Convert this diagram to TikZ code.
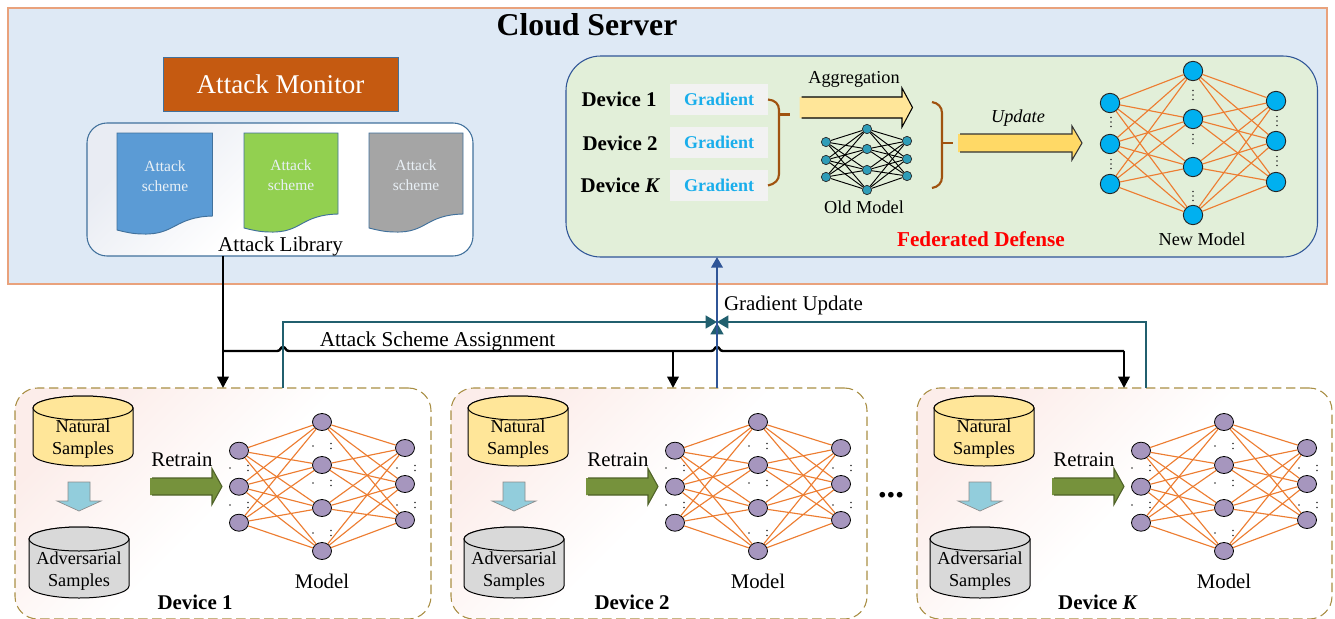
\documentclass[tikz,border=0pt]{standalone}
\usepackage{fontspec}
\setmainfont{Liberation Serif}
\usetikzlibrary{arrows.meta,calc,shapes.geometric}
\definecolor{cloudfill}{HTML}{DEE9F5}
\definecolor{cloudline}{HTML}{E9A27C}
\definecolor{monfill}{HTML}{C55A11}
\definecolor{panelline}{HTML}{41719C}
\definecolor{fedfill}{HTML}{E2EFD9}
\definecolor{fedline}{HTML}{2F5597}
\definecolor{docblue}{HTML}{5B9BD5}
\definecolor{docgreen}{HTML}{92D050}
\definecolor{docgray}{HTML}{A5A5A5}
\definecolor{gradblue}{HTML}{1AAEEB}
\definecolor{gradbox}{HTML}{F2F2F2}
\definecolor{bracec}{HTML}{A0520F}
\definecolor{orangeedge}{HTML}{ED7D31}
\definecolor{nodecyan}{HTML}{00B0F0}
\definecolor{nodeteal}{HTML}{2F9DB8}
\definecolor{nodepurple}{HTML}{A696BE}
\definecolor{yellowfill}{HTML}{FFE699}
\definecolor{updatefill}{HTML}{FFD966}
\definecolor{grayfill}{HTML}{D9D9D9}
\definecolor{retrainfill}{HTML}{76923C}
\definecolor{retrainline}{HTML}{4F6228}
\definecolor{downfill}{HTML}{92CDDC}
\definecolor{dashc}{HTML}{A98F45}
\definecolor{tealc}{HTML}{215F6E}
\definecolor{pinkc}{HTML}{FCEDEA}
\definecolor{libc}{HTML}{E9ECF3}
\definecolor{schemec}{HTML}{E9F0F6}
\newcommand{\fsz}[1]{\fontsize{#1}{#1}\selectfont}
\tikzset{
  label18/.style={font=\fsz{13.7}},
  label21/.style={font=\fsz{15.6}},
  devlabel/.style={font=\fsz{15.7}\bfseries},
  schemetext/.style={font=\fsz{11.6},text=schemec,align=center},
  samplestext/.style={font=\fontsize{13.7}{16.5}\selectfont,align=center},
  gradtext/.style={fill=gradbox,font=\fsz{13.5}\bfseries,text=gradblue},
  devpanel/.style={draw=dashc,line width=0.8pt,dash pattern=on 7pt off 3.5pt,rounded corners=17pt,left color=pinkc,right color=white,middle color=white,shading angle=45},
  nnpurple/.style={ellipse,draw=black,line width=0.6pt,fill=nodepurple,minimum width=14.25pt,minimum height=12.75pt,inner sep=0pt},
  nncyan/.style={circle,draw=black!85,line width=0.7pt,fill=nodecyan,minimum size=14.5pt,inner sep=0pt},
  nnteal/.style={circle,draw=black!85,line width=0.5pt,fill=nodeteal,minimum size=7pt,inner sep=0pt},
  edgeorange/.style={draw=orangeedge,line width=0.85pt},
  edgeblack/.style={draw=black,line width=0.7pt},
  bracepath/.style={draw=bracec,line width=1.6pt},
  busblack/.style={draw=black,line width=1.8pt},
  busteal/.style={draw=tealc,line width=1.8pt},
  busblue/.style={draw=fedline,line width=2pt},
  tipblack/.style={-{Triangle[length=8.5pt,width=8.5pt]}},
  tipteal/.style={-{Triangle[length=8.5pt,width=9.5pt,fill=tealc]}},
  dotmark/.style={fill=black!80},
}
% style name x0 y0 x1 y1 text
\newcommand{\pxbox}[7]{%
  \pgfmathsetmacro\bw{(#5-#3)*0.75}\pgfmathsetmacro\bh{(#6-#4)*0.75}%
  \node[#1,minimum width=\bw pt,minimum height=\bh pt,inner sep=0pt,outer sep=0pt] (#2) at ({(#3+#5)/2},{(#4+#6)/2}) {#7};}
% fill line x0 xh xt yc halfbody halfhead
\newcommand{\blockarrow}[8]{%
  \fill[#1] (#3,#6-#7) -- (#4,#6-#7) -- (#4,#6-#8) -- (#5,#6) -- (#4,#6+#8) -- (#4,#6+#7) -- (#3,#6+#7) -- cycle;
  \draw[#2,line width=0.8pt] (#3+2,#6-#7) -- (#4,#6-#7) -- (#4,#6-#8) -- (#5,#6) -- (#4,#6+#8) -- (#4,#6+#7) -- (#3+2,#6+#7);}
% x0 x1 ytop yright yleft ybottom fill
\newcommand{\docshape}[7]{%
  \draw[fill=#7,draw=panelline,line width=0.7pt] (#1,#3) -- (#2,#3) -- (#2,#4)
   .. controls (#2-38,#4+1) and (#1+58,#6+1) .. (#1+26,#6)
   .. controls (#1+16,#6) and (#1+8,#5+2) .. (#1,#5) -- cycle;}
% x0 x1 ytop ybot fill
\newcommand{\cyl}[5]{%
  \pgfmathsetmacro\rx{((#2)-(#1))/2}\pgfmathsetmacro\cx{((#1)+(#2))/2}%
  \draw[fill=#5,draw=black,line width=0.75pt] (#1,#3+12) arc[start angle=180,end angle=360,x radius=\rx,y radius=12] -- (#2,#4-12) arc[start angle=0,end angle=180,x radius=\rx,y radius=12] -- cycle;
  \draw[fill=#5,draw=black,line width=0.75pt] (\cx,#3+12) ellipse[x radius=\rx,y radius=12];}
\newcommand{\vdotsmark}[3]{% x y sizepx
  \foreach \d in {-1,0,1} \fill[dotmark] (#1,#2+\d*4.5) circle[radius=#3];}
\newcommand{\splitdots}[2]{% x y : single dot, then double dot 18 px right
  \fill[dotmark] (#1,#2) circle[radius=0.8];
  \fill[dotmark] (#1+18,#2-2.5) circle[radius=0.8];
  \fill[dotmark] (#1+18,#2+2.5) circle[radius=0.8];}
% prefix style
\newcommand{\netedges}[2]{%
  \foreach \i in {1,2,3} \foreach \j in {1,2,3,4} {\draw[#2] (#1l\i) -- (#1m\j); \draw[#2] (#1m\j) -- (#1r\i);}}
% prefix modeloffset leftoffset labelx label
\newcommand{\device}[5]{%
  \cyl{33+#3}{133+#3}{396}{466}{yellowfill}
  \node[samplestext] (#1nat) at (83+#3,439) {Natural\\Samples};
  \cyl{29+#3}{129+#3}{527}{598}{grayfill}
  \node[samplestext] (#1adv) at (79+#3,571) {Adversarial\\Samples};
  \draw[fill=downfill,draw=black!45,line width=0.5pt] (68+#3,482) -- (90+#3,482) -- (90+#3,501) -- (101+#3,501) -- (79+#3,511) -- (57+#3,501) -- (68+#3,501) -- cycle;
  \blockarrow{retrainfill}{retrainline}{150+#2}{212+#2}{222+#2}{486.5}{8.5}{18}
  \node[label21] (#1ret) at (182+#2,460) {Retrain};
  \foreach \i/\yy in {1/450.7,2/486.7,3/522.7} \node[nnpurple] (#1l\i) at (239+#2,\yy) {};
  \foreach \i/\yy in {1/422,2/465,3/508,4/551} \node[nnpurple] (#1m\i) at (322+#2,\yy) {};
  \foreach \i/\yy in {1/448,2/484,3/520} \node[nnpurple] (#1r\i) at (405+#2,\yy) {};
  \netedges{#1}{edgeorange}
  \splitdots{230+#2}{468}\splitdots{230+#2}{505}
  \splitdots{313+#2}{446}\splitdots{313+#2}{483}\splitdots{313+#2}{533}
  \splitdots{397+#2}{468}\splitdots{397+#2}{505}
  \node[label21] (#1mod) at (322+#2,581) {Model};
  \node[devlabel] (#1lab) at (#4,602) {#5};}
\begin{document}
\begin{tikzpicture}[x=0.75pt,y=-0.75pt]
\useasboundingbox (0,0) rectangle (1335,618);
\fill[white] (0,0) rectangle (1335,618);
% cloud
\pxbox{draw=cloudline,fill=cloudfill,line width=0.9pt}{cloud}{8}{8}{1327}{284}{}
\node[font=\fsz{23.8}\bfseries] (title) at (587,25) {Cloud Server};
\pxbox{draw=panelline,fill=monfill,line width=0.7pt,text=white,font=\fsz{20.3}}{monitor}{163}{57}{398}{111.5}{Attack Monitor}
\pxbox{draw=panelline,line width=0.8pt,rounded corners=15pt,left color=libc,right color=white,middle color=white,shading angle=45}{library}{87}{123}{473}{256}{}
\docshape{117}{212.5}{133}{216}{230}{234}{docblue}
\docshape{244}{338}{133}{214}{228}{232}{docgreen}
\docshape{369}{463}{133}{214}{228}{232}{docgray}
\node[schemetext] (s1) at (165,176.5) {Attack\\[3.5pt]scheme};
\node[schemetext] (s2) at (291,175.5) {Attack\\[3.5pt]scheme};
\node[schemetext] (s3) at (416,175.5) {Attack\\[3.5pt]scheme};
\node[label21,font=\fsz{15.8}] (lib) at (280.5,246) {Attack Library};
% federated
\pxbox{draw=fedline,fill=fedfill,line width=0.8pt,rounded corners=26pt}{fed}{566}{56}{1317.5}{257}{}
\node[devlabel] (d1) at (619,99) {Device 1};
\node[devlabel] (d2) at (620,143) {Device 2};
\node[devlabel] (dk) at (620.5,185) {Device \textit{K}};
\pxbox{gradtext}{g1}{670}{84}{768}{115}{Gradient}
\pxbox{gradtext}{g2}{670}{127}{768}{158}{Gradient}
\pxbox{gradtext}{g3}{670}{170}{768}{201}{Gradient}
\coordinate (b1s) at (g1.east);
\coordinate (b1e) at (g3.east);
\draw[bracepath] (b1s) .. controls (775,100) and (779,104) .. (779,110) -- (779,174) .. controls (779,180) and (775,184) .. (b1e);
\draw[bracepath] (779,114.5) -- (790,114.5);
\coordinate (b2s) at (932,102);
\coordinate (b2e) at (932,188);
\draw[bracepath] (b2s) .. controls (938,103) and (942,107) .. (942,113) -- (942,177) .. controls (942,183) and (938,187) .. (b2e);
\draw[bracepath] (942,143) -- (953,143);
\blockarrow{yellowfill}{black}{799.5}{902}{912.5}{107.5}{10.5}{19.5}
\node[label18] (agg) at (854,79) {Aggregation};
\foreach \i/\yy in {1/142,2/160,3/177} \node[nnteal] (ol\i) at (826,\yy) {};
\foreach \i/\yy in {1/129,2/149,3/170,4/190} \node[nnteal] (om\i) at (867,\yy) {};
\foreach \i/\yy in {1/141,2/159,3/176} \node[nnteal] (or\i) at (907,\yy) {};
\netedges{o}{edgeblack}
\node[label18] (old) at (864,207) {Old Model};
\blockarrow{updatefill}{black!80}{958}{1072}{1082}{143}{9}{17}
\node[label18,font=\fsz{13.7}\itshape] (upd) at (1018,118) {Update};
\foreach \i/\yy in {1/103,2/144,3/184} \node[nncyan] (nl\i) at (1110,\yy) {};
\foreach \i/\yy in {1/71,2/119,3/167,4/215} \node[nncyan] (nm\i) at (1193,\yy) {};
\foreach \i/\yy in {1/101,2/141,3/182} \node[nncyan] (nr\i) at (1276,\yy) {};
\netedges{n}{edgeorange}
\foreach \xx/\yy in {1111/122,1111/164,1193/95,1193/139,1193/196,1277/121,1277/161} \vdotsmark{\xx}{\yy}{0.8};
\node[label18] (new) at (1202,239) {New Model};
\node[font=\fsz{15.9}\bfseries,text=red] (fd) at (981,239) {Federated Defense};
% devices
\pxbox{devpanel}{p1}{15}{388}{431}{619}{}
\pxbox{devpanel}{p2}{451}{388}{867}{619}{}
\pxbox{devpanel}{p3}{917}{388}{1332}{619}{}
\device{a}{0}{0}{195}{Device 1}
\device{b}{436}{435}{632}{Device 2}
\device{c}{902}{901}{1098}{Device \textit{K}}
\node[font=\fsz{26}\bfseries,anchor=base] (gap) at (891,497) {...};
% connectors
\coordinate (hub) at (717,322);
\coordinate (busL) at (223,351);
\coordinate (busM) at (673,351);
\coordinate (busR) at (1124,351);
\coordinate (j1) at (283,351);
\coordinate (j2) at (717,351);
\coordinate (tl) at (283,322);
\coordinate (tr) at (1146,322);
\draw[busblack,tipblack] (library.south -| busL) -- (p1.north -| busL);
\draw[busblack] (busL) -- ($(j1)+(-6,0)$) .. controls ($(j1)+(-2,0)$) and ($(j1)+(-3,-4)$) .. ($(j1)+(0,-4)$) .. controls ($(j1)+(3,-4)$) and ($(j1)+(2,0)$) .. ($(j1)+(6,0)$) -- ($(j2)+(-6,0)$) .. controls ($(j2)+(-2,0)$) and ($(j2)+(-3,-4)$) .. ($(j2)+(0,-4)$) .. controls ($(j2)+(3,-4)$) and ($(j2)+(2,0)$) .. ($(j2)+(6,0)$) -- (busR);
\draw[busblack,tipblack] (busM) -- (p2.north -| busM);
\draw[busblack,tipblack] (busR) -- (p3.north -| busR);
\draw[busteal,tipteal] (p1.north -| tl) -- (tl) -- (hub);
\draw[busteal,tipteal] (p3.north -| tr) -- (tr) -- (hub);
\draw[busteal,tipteal] (717,338) -- (717,323);
\draw[busblue,{Triangle[length=8pt,width=8.5pt]}-] (fed.south -| hub) -- (p2.north -| hub);
\node[font=\fsz{15.7}] (gu) at (793.5,305) {Gradient Update};
\node[font=\fsz{15.9}] (asa) at (437.5,341) {Attack Scheme Assignment};
\end{tikzpicture}
\end{document}
